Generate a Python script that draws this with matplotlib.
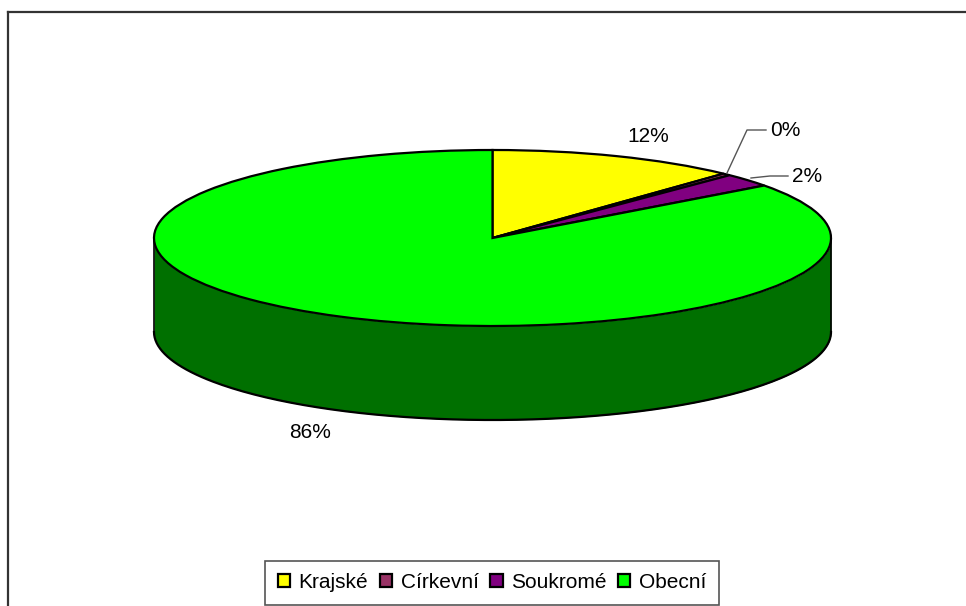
import matplotlib
matplotlib.use('Agg')
import matplotlib.pyplot as plt
import numpy as np

categories = ['Krajské', 'Církevní', 'Soukromé', 'Obecní']
values = [12.0, 0.4, 2.49, 85.5]
pct_labels = ['12%', '0%', '2%', '86%']
colors = ['#ffff00', '#993366', '#800080', '#00ff00']
wall_color = '#007000'

plt.rcParams['font.family'] = ['Liberation Sans', 'DejaVu Sans']

W, H = 966, 606
fig = plt.figure(figsize=(W / 100, H / 100), dpi=100)

# overlay in pixel coordinates, for the frame and the labels
bg = fig.add_axes([0, 0, 1, 1], zorder=3)
bg.set_xlim(0, W)
bg.set_ylim(H, 0)
bg.axis('off')
bg.patch.set_alpha(0)

# the pie: a circle stretched to the ellipse of the top face
left, right, top, bottom = 154, 831, 150, 326
depth = 94
ax = fig.add_axes([left / W, 1 - bottom / H, (right - left) / W, (bottom - top) / H], zorder=1)
wedges, _ = ax.pie(values, colors=colors, startangle=90, counterclock=False,
                   wedgeprops={'edgecolor': 'black', 'linewidth': 1.6, 'zorder': 3})
ax.set_aspect('auto')
ax.set_xlim(-1, 1)
ax.set_ylim(-1, 1)

# side wall below the front half
t = np.linspace(np.pi, 2 * np.pi, 200)
dy = 2 * depth / (bottom - top)
wx = np.cos(t)
wy = np.sin(t)
ax.fill_between(wx, wy, wy - dy, color=wall_color, clip_on=False, zorder=1, lw=0)
ax.plot(wx, wy - dy, color='black', lw=1.6, clip_on=False, zorder=2)
ax.plot([-1, -1], [0, -dy], color='black', lw=1.2, clip_on=False, zorder=2)
ax.plot([1, 1], [0, -dy], color='black', lw=1.2, clip_on=False, zorder=2)

# outer frame, runs off the right and bottom edges
bg.plot([8, 8], [H, 12], color='#333333', lw=1.6, clip_on=False)
bg.plot([8, W], [12, 12], color='#333333', lw=1.6, clip_on=False)

# percent labels with leader lines
fs = 15
bg.text(648, 136, pct_labels[0], fontsize=fs, ha='center', va='center', color='black')
bg.text(785, 131, pct_labels[1], fontsize=fs, ha='center', va='center', color='black')
bg.text(807, 177, pct_labels[2], fontsize=fs, ha='center', va='center', color='black')
bg.text(310, 433, pct_labels[3], fontsize=fs, ha='center', va='center', color='black')
bg.plot([727, 747, 766], [173, 130, 130], color='#555555', lw=1)
bg.plot([751, 770, 788], [178, 176, 176], color='#555555', lw=1)

leg = fig.legend(wedges, categories, ncol=4, loc='center',
                 bbox_to_anchor=(492 / W, 1 - 582.5 / H), fontsize=15, frameon=True,
                 fancybox=False, edgecolor='#555555', framealpha=1,
                 handlelength=0.6, handleheight=0.6, handletextpad=0.4,
                 columnspacing=0.55, borderpad=0.6, borderaxespad=0)
leg.get_frame().set_linewidth(1.2)
leg.set_zorder(5)
for h in leg.legend_handles:
    h.set_linewidth(1.6)

fig.savefig('out.png', dpi=100)
